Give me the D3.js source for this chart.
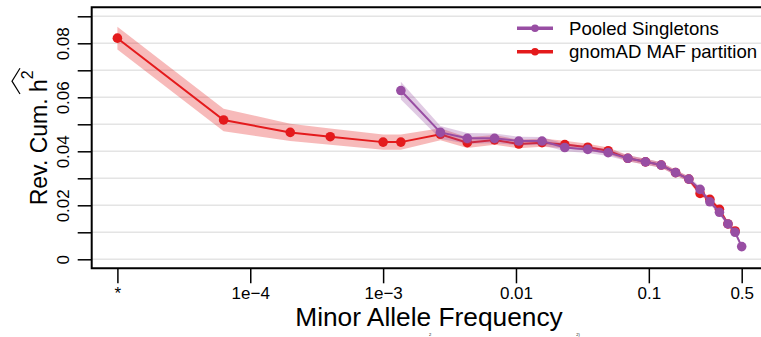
<!DOCTYPE html>
<html><head><meta charset="utf-8">
<script src="https://cdn.jsdelivr.net/npm/d3@7"></script>
<style>
body{margin:0;background:#fff}
svg{display:block}
text{font-family:"Liberation Sans",Arial,Helvetica,sans-serif;fill:#000}
</style>
</head><body>
<svg id="chart" width="761" height="337"></svg>
<script>
// ---- data ----
const gnomadMaf = [1e-5, 6.3e-5, 2e-4, 4e-4, 1e-3, 1.36e-3, 2.7e-3, 4.3e-3, 6.9e-3, 0.0105, 0.0157, 0.0233, 0.0347, 0.0494, 0.0695, 0.0944, 0.124, 0.159, 0.2, 0.243, 0.288, 0.34, 0.394, 0.446];
const gnomadH2  = [0.0819, 0.0516, 0.0470, 0.0454, 0.0434, 0.0434, 0.0463, 0.0432, 0.0442, 0.0427, 0.0432, 0.0425, 0.0415, 0.0402, 0.0374, 0.0361, 0.0349, 0.0321, 0.0297, 0.0244, 0.0222, 0.0185, 0.0131, 0.0105];
const gnomadSe  = [0.0042, 0.0042, 0.0032, 0.0030, 0.0028, 0.0028, 0.0022, 0.0020, 0.0018, 0.0016, 0.0015, 0.0014, 0.0013, 0.0012, 0.0011, 0.0011, 0.0010, 0.0010, 0.0010, 0.0010, 0.0009, 0.0009, 0.0009, 0.0008];

const pooledMaf = [1.36e-3, 2.7e-3, 4.3e-3, 6.9e-3, 0.0105, 0.0157, 0.0233, 0.0347, 0.0494, 0.0695, 0.0944, 0.124, 0.159, 0.2, 0.243, 0.288, 0.34, 0.394, 0.446, 0.5];
const pooledH2  = [0.0625, 0.0470, 0.0448, 0.0448, 0.0438, 0.0438, 0.0414, 0.0407, 0.0395, 0.0374, 0.0361, 0.0349, 0.0321, 0.0297, 0.0259, 0.0213, 0.0174, 0.0131, 0.0100, 0.0047];
const pooledSe  = [0.0033, 0.0024, 0.0020, 0.0018, 0.0016, 0.0015, 0.0014, 0.0013, 0.0012, 0.0011, 0.0011, 0.0010, 0.0010, 0.0010, 0.0010, 0.0009, 0.0009, 0.0009, 0.0008, 0.0008];

const xTickValues = [1e-5, 1e-4, 1e-3, 0.01, 0.1, 0.5];
const xTickLabels = ["*", "1e\u22124", "1e\u22123", "0.01", "0.1", "0.5"];
const yTickValues = [0, 0.01, 0.02, 0.03, 0.04, 0.05, 0.06, 0.07, 0.08, 0.09];
const yTickLabels = ["0", "", "0.02", "", "0.04", "", "0.06", "", "0.08", ""];
const gridValues  = [0, 0.01, 0.02, 0.03, 0.04, 0.05, 0.06, 0.07, 0.08, 0.09];
const legendNames  = ["Pooled Singletons", "gnomAD MAF partition"];
const legendColors = ["#984ea3", "#e41a1c"];
const xTitle = "Minor Allele Frequency";
const captionBits = ["2", "2)"];

// ---- layout ----
const svg = d3.select("#chart");
const L = 91.7, R = 764, T = 7.3, B = 268.3;

const x = d3.scaleLog().domain([1e-5, 0.5]).range([117.4, 741.7]);
const y = d3.scaleLinear().domain([0, 0.08]).range([259.3, 43.3]);

// grid
svg.append("g").selectAll("line").data(gridValues).join("line")
  .attr("x1", L).attr("x2", R).attr("y1", d => y(d)).attr("y2", d => y(d))
  .attr("stroke", "#e4e4e4").attr("stroke-width", 1.5);

function series(maf, h2, se, color) {
  const data = maf.map((m, i) => ({m, v: h2[i], s: se[i]}));
  const g = svg.append("g");
  g.append("path").datum(data)
    .attr("d", d3.area().x(d => x(d.m)).y0(d => y(d.v - d.s)).y1(d => y(d.v + d.s)))
    .attr("fill", color).attr("fill-opacity", 0.3);
  g.append("path").datum(data)
    .attr("d", d3.line().x(d => x(d.m)).y(d => y(d.v)))
    .attr("fill", "none").attr("stroke", color).attr("stroke-width", 2);
  g.selectAll("circle").data(data).join("circle")
    .attr("cx", d => x(d.m)).attr("cy", d => y(d.v)).attr("r", 4.8)
    .attr("fill", color);
}
series(gnomadMaf, gnomadH2, gnomadSe, legendColors[1]);
series(pooledMaf, pooledH2, pooledSe, legendColors[0]);

// frame
svg.append("path")
  .attr("d", `M${R + 10},${T}H${L}V${B}H${R + 10}`)
  .attr("fill", "none").attr("stroke", "#000").attr("stroke-width", 2);

// y axis
const yAxis = svg.append("g").attr("transform", `translate(${L},0)`)
  .call(d3.axisLeft(y).tickValues(yTickValues).tickSize(14).tickFormat((d, i) => yTickLabels[i]));
yAxis.select(".domain").remove();
yAxis.selectAll(".tick line").attr("stroke", "#000").attr("stroke-width", 1.5);
yAxis.selectAll(".tick text")
  .attr("transform", "rotate(-90)").attr("x", 0).attr("y", -22.5).attr("dy", 0)
  .attr("text-anchor", "middle").style("font-size", "17px").attr("font-family", null);

// x axis
const xAxis = svg.append("g").attr("transform", `translate(0,${B})`)
  .call(d3.axisBottom(x).tickValues(xTickValues).tickSize(15).tickFormat((d, i) => xTickLabels[i]));
xAxis.select(".domain").remove();
xAxis.selectAll(".tick line").attr("stroke", "#000").attr("stroke-width", 1.5);
xAxis.selectAll(".tick text").attr("y", 30.3).attr("dy", 0)
  .style("font-size", "17px").attr("font-family", null);

// x title
svg.append("text").attr("x", 429).attr("y", 326.3).attr("text-anchor", "middle")
  .style("font-size", "26.3px").text(xTitle);

// y title with hat and superscript
const yt = svg.append("g").attr("transform", `translate(47,${(T + B) / 2}) rotate(-90)`);
const ytText = yt.append("text").attr("text-anchor", "middle").style("font-size", "23px");
ytText.append("tspan").text("Rev. Cum. h");
ytText.append("tspan").attr("dy", -14).style("font-size", "16px").text("2");
const node = ytText.node();
const eh = node.getExtentOfChar(10), e2 = node.getExtentOfChar(11);
const hx0 = eh.x - 2, hx1 = e2.x + e2.width + 2;
yt.append("path")
  .attr("d", `M${hx0},-27L${(hx0 + hx1) / 2},-35L${hx1},-27`)
  .attr("fill", "none").attr("stroke", "#000").attr("stroke-width", 1.2);

// legend
const lg = svg.append("g");
legendNames.forEach((name, i) => {
  const cy = 28.3 + i * 23.4;
  lg.append("line").attr("x1", 517).attr("x2", 553).attr("y1", cy).attr("y2", cy)
    .attr("stroke", legendColors[i]).attr("stroke-width", 3.5);
  lg.append("circle").attr("cx", 535).attr("cy", cy).attr("r", 3.8).attr("fill", legendColors[i]);
  lg.append("text").attr("x", 569).attr("y", cy + 6.5).style("font-size", "18.6px").text(name);
});

// small remnants of caption text at the bottom edge
svg.append("g").selectAll("text").data(captionBits).join("text")
  .attr("x", (d, i) => i === 0 ? 430 : 578).attr("y", 335.9).attr("text-anchor", "middle")
  .style("font-size", "4px").text(d => d);
</script>
</body></html>
